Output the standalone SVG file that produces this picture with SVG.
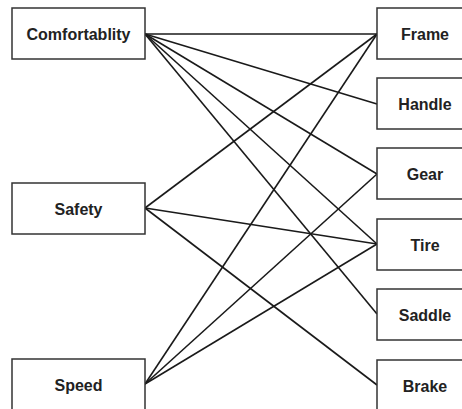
<svg xmlns="http://www.w3.org/2000/svg" width="462" height="409" viewBox="0 0 462 409">
<style>
rect{fill:#fff;stroke:#333;stroke-width:1.5}
text{font-family:"Liberation Sans",Arial,sans-serif;font-weight:bold;font-size:16px;fill:#222;text-anchor:middle}
#connectors line{stroke:#1a1a1a;stroke-width:1.6}
</style>
<rect width="462" height="409" style="fill:#fff;stroke:none"/>
<g id="connectors">
<line x1="145" y1="34" x2="377" y2="34"/>
<line x1="145" y1="34" x2="377" y2="104"/>
<line x1="145" y1="34" x2="377" y2="174"/>
<line x1="145" y1="34" x2="377" y2="244"/>
<line x1="145" y1="34" x2="377" y2="314"/>
<line x1="145" y1="208" x2="377" y2="34"/>
<line x1="145" y1="208" x2="377" y2="244"/>
<line x1="145" y1="208" x2="377" y2="385"/>
<line x1="145" y1="384" x2="377" y2="34"/>
<line x1="145" y1="384" x2="377" y2="174"/>
<line x1="145" y1="384" x2="377" y2="244"/>
</g>
<g id="comfortablity"><rect x="12" y="8" width="133" height="51"/><text x="78.5" y="39.5">Comfortablity</text></g>
<g id="safety"><rect x="12" y="183" width="133" height="51"/><text x="78.5" y="214.5">Safety</text></g>
<g id="speed"><rect x="12" y="359" width="133" height="51"/><text x="78.5" y="390.5">Speed</text></g>
<g id="frame"><rect x="377" y="8" width="96" height="51"/><text x="425" y="39.5">Frame</text></g>
<g id="handle"><rect x="377" y="78" width="96" height="51"/><text x="425" y="109.5">Handle</text></g>
<g id="gear"><rect x="377" y="148" width="96" height="51"/><text x="425" y="179.5">Gear</text></g>
<g id="tire"><rect x="377" y="219" width="96" height="51"/><text x="425" y="250.5">Tire</text></g>
<g id="saddle"><rect x="377" y="289" width="96" height="51"/><text x="425" y="320.5">Saddle</text></g>
<g id="brake"><rect x="377" y="360" width="96" height="51"/><text x="425" y="391.5">Brake</text></g>
</svg>
